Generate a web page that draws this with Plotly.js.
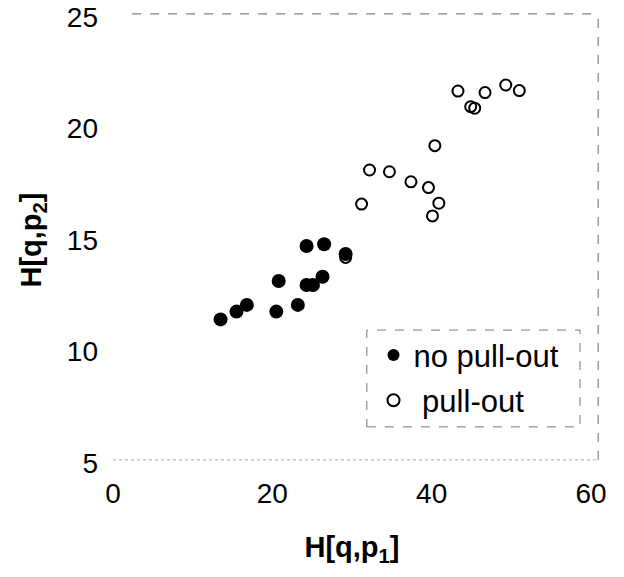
<!DOCTYPE html>
<html>
<head>
<meta charset="utf-8">
<script src="https://cdn.plot.ly/plotly-3.0.1.min.js"></script>
<style>html,body{margin:0;padding:0;background:#fff;}#chart{width:624px;height:577px;}</style>
</head>
<body>
<div id="chart"></div>
<script>
// No pull-out (filled)
const noPullX = [13.5, 15.5, 16.8, 20.5, 20.8, 23.2, 24.3, 25.1, 26.3, 24.3, 26.5, 29.2];
const noPullY = [11.44, 11.79, 12.09, 11.79, 13.16, 12.09, 12.98, 12.98, 13.35, 14.73, 14.81, 14.37];
// Pull-out (open)
const pullX = [29.2, 31.2, 32.2, 34.7, 37.4, 39.6, 40.9, 40.1, 40.4, 43.3, 44.9, 45.4, 46.7, 49.3, 51.0];
const pullY = [14.22, 16.61, 18.14, 18.06, 17.61, 17.35, 16.65, 16.08, 19.23, 21.68, 20.98, 20.91, 21.61, 21.95, 21.70];
const xTicks = [0, 20, 40, 60];
const yTicks = [5, 10, 15, 20, 25];

const FONT = 'Liberation Sans, Arial, sans-serif';

const traces = [
  {
    x: pullX, y: pullY, type: 'scatter', mode: 'markers', name: '\u00a0pull-out',
    legendgroup: 'b', legendrank: 2,
    marker: {symbol: 'circle-open', size: 11, color: '#000', line: {width: 2, color: '#000'}},
    cliponaxis: false
  },
  {
    x: noPullX, y: noPullY, type: 'scatter', mode: 'markers', name: 'no pull-out',
    legendgroup: 'a', legendrank: 1,
    marker: {symbol: 'circle', size: 14, color: '#000'},
    cliponaxis: false
  }
];

const layout = {
  width: 624, height: 577,
  margin: {l: 113, r: 33, t: 17, b: 114},
  paper_bgcolor: '#fff', plot_bgcolor: '#fff',
  font: {family: FONT, color: '#000', size: 28},
  showlegend: true,
  legend: {
    x: 0.545, y: 0.302, xanchor: 'left', yanchor: 'top',
    bgcolor: 'rgba(0,0,0,0)', borderwidth: 0,
    font: {family: FONT, size: 31, color: '#000'},
    tracegroupgap: 2, itemsizing: 'constant'
  },
  xaxis: {
    range: [0, 60], tickvals: xTicks, ticktext: xTicks.map(String),
    showgrid: false, zeroline: false, showline: false,
    ticks: '', ticklabelstandoff: 11,
    tickfont: {family: FONT, size: 28, color: '#000'},
    title: {text: '<b>H[q,p<sub>1</sub>]</b>', font: {family: FONT, size: 29, color: '#000'}, standoff: 28}
  },
  yaxis: {
    range: [5, 25], tickvals: yTicks, ticktext: yTicks.map(String),
    showgrid: false, zeroline: false, showline: false,
    ticks: '', ticklabelstandoff: 14,
    tickfont: {family: FONT, size: 28, color: '#000'},
    title: {text: '<b>H[q,p<sub>2</sub>]</b>', font: {family: FONT, size: 29, color: '#000'}, standoff: 16}
  },
  shapes: [
    {type: 'line', xref: 'paper', yref: 'paper', x0: 0.04, x1: 1.015, y0: 1.007, y1: 1.007,
     line: {color: '#666', width: 1, dash: 'dash'}},
    {type: 'line', xref: 'paper', yref: 'paper', x0: 1.015, x1: 1.015, y0: 0.007, y1: 1.007,
     line: {color: '#666', width: 1, dash: 'dash'}},
    {type: 'line', xref: 'paper', yref: 'paper', x0: 0, x1: 1.015, y0: 0.007, y1: 0.007,
     line: {color: '#aaa', width: 1, dash: 'dot'}},
    {type: 'rect', xref: 'paper', yref: 'paper', x0: 0.531, x1: 0.977, y0: 0.081, y1: 0.298,
     line: {color: '#777', width: 1, dash: 'dash'}, fillcolor: 'rgba(0,0,0,0)'}
  ]
};

Plotly.newPlot('chart', traces, layout, {displayModeBar: false, staticPlot: true});
</script>
</body>
</html>
